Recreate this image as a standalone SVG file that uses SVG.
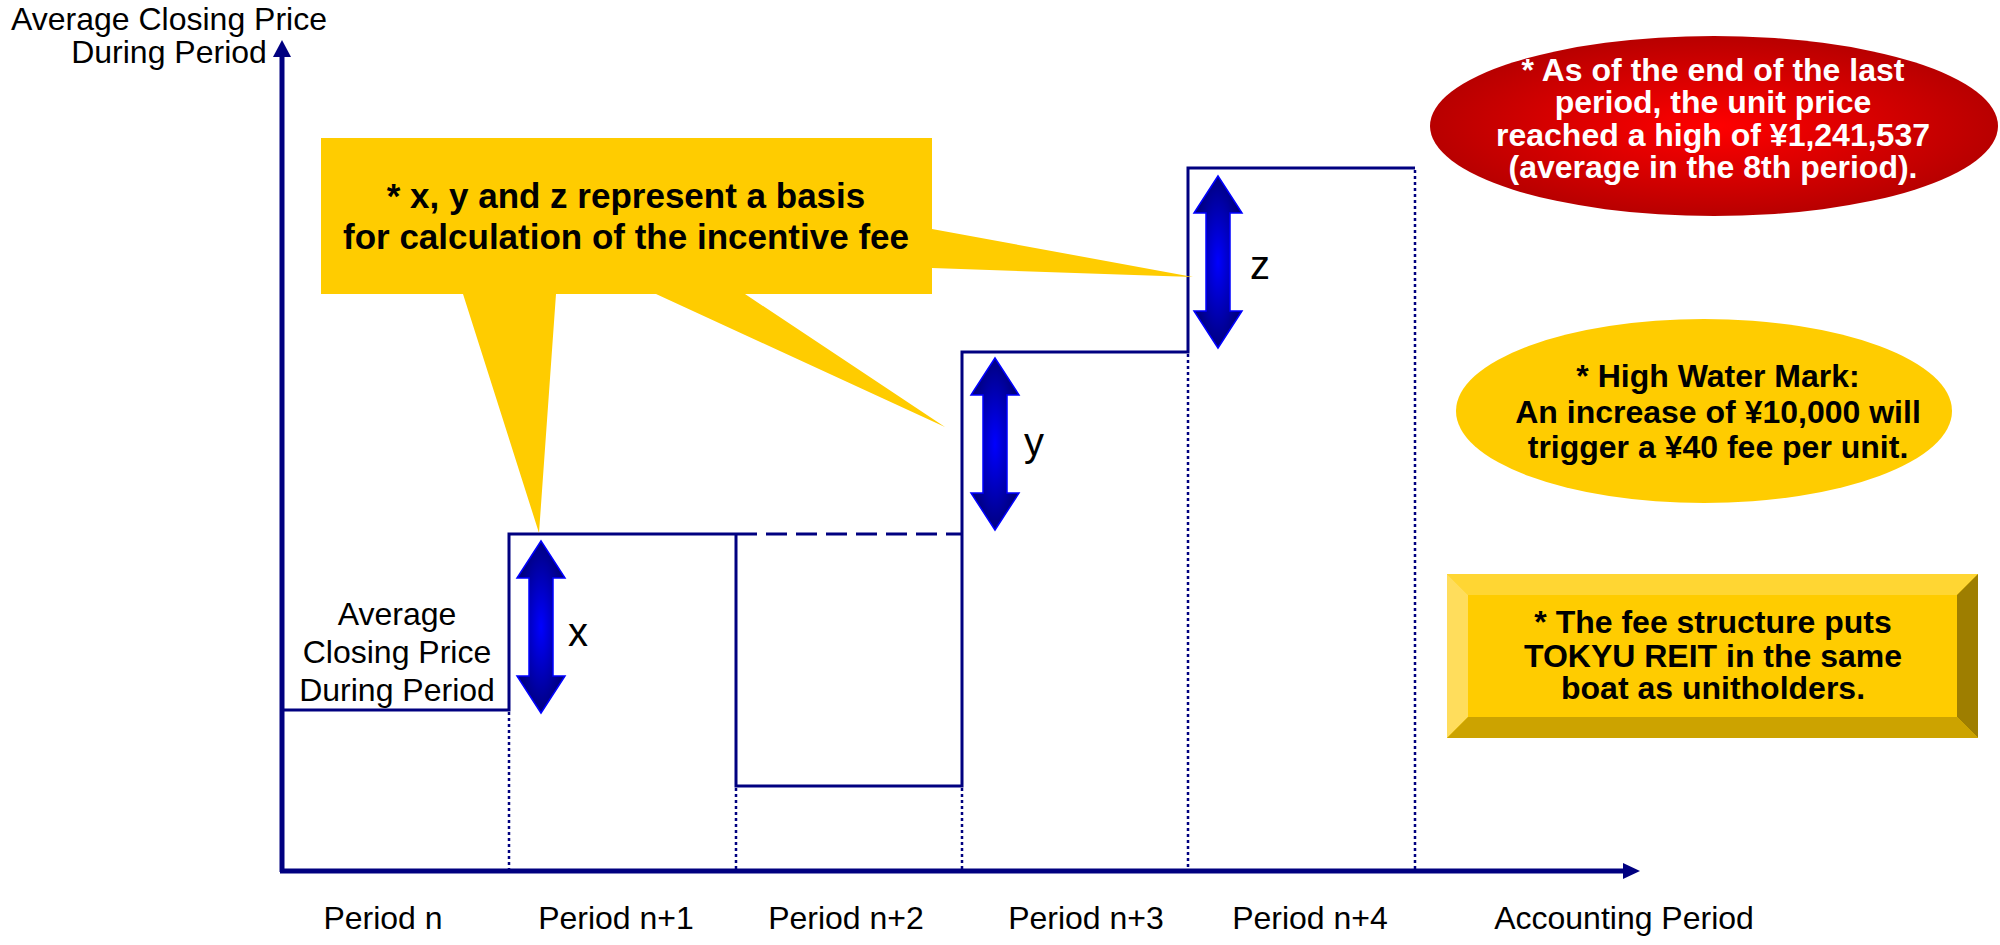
<svg xmlns="http://www.w3.org/2000/svg" width="2000" height="945" viewBox="0 0 2000 945">
<style>
text{font-family:"Liberation Sans",Arial,sans-serif;}
.lbl{font-size:32px;fill:#000;text-anchor:middle;}
.b{font-weight:bold;font-size:32px;text-anchor:middle;}
.step{fill:none;stroke:#000080;stroke-width:3;}
.dot{fill:none;stroke:#000080;stroke-width:2.5;stroke-dasharray:3 3;}
.dash{fill:none;stroke:#000080;stroke-width:3;stroke-dasharray:21 9;}
.axis{fill:none;stroke:#000080;stroke-width:5;}
.dbl{fill:url(#blueGrad);stroke:#0000FF;stroke-width:1.5;}
.var{font-size:40px;fill:#000;}
</style>
<defs>
<radialGradient id="blueGrad" cx="0.5" cy="0.5" r="0.5">
<stop offset="0" stop-color="#0000FF"/>
<stop offset="1" stop-color="#000080"/>
</radialGradient>
<radialGradient id="redGrad" cx="0.5" cy="0.5" r="0.5">
<stop offset="0" stop-color="#FF0000"/>
<stop offset="1" stop-color="#B80000"/>
</radialGradient>
<path id="dblArrow" d="M0,0 L24,37 L12,37 L12,135 L24,135 L0,172 L-24,135 L-12,135 L-12,37 L-24,37 Z"/>
</defs>

<g id="axes">
<line class="axis" x1="282" y1="872" x2="282" y2="55"/>
<polygon points="273,57 291,57 282,40" fill="#000080"/>
<line class="axis" x1="280" y1="871" x2="1625" y2="871"/>
<polygon points="1623,863 1623,879 1640,871" fill="#000080"/>
</g>

<g id="connectors">
<polyline class="step" points="282,710 509,710 509,534 736,534"/>
<polyline class="step" points="736,534 736,786 962,786 962,352 1188,352 1188,168 1415,168"/>
<line class="dash" x1="736" y1="534" x2="962" y2="534"/>
<line class="dot" x1="509" y1="712" x2="509" y2="870"/>
<line class="dot" x1="736" y1="788" x2="736" y2="870"/>
<line class="dot" x1="962" y1="788" x2="962" y2="870"/>
<line class="dot" x1="1188" y1="354" x2="1188" y2="870"/>
<line class="dot" x1="1415" y1="170" x2="1415" y2="870"/>
</g>

<g id="arrow-x">
<use href="#dblArrow" class="dbl" transform="translate(541,541)"/>
<text class="var" x="568" y="646">x</text>
</g>
<g id="arrow-y">
<use href="#dblArrow" class="dbl" transform="translate(995,358)"/>
<text class="var" x="1024" y="456">y</text>
</g>
<g id="arrow-z">
<use href="#dblArrow" class="dbl" transform="translate(1218,176)"/>
<text class="var" x="1250" y="279">z</text>
</g>

<g id="y-axis-label">
<text class="lbl" x="169" y="30">Average Closing Price</text>
<text class="lbl" x="169" y="63">During Period</text>
</g>

<g id="price-label">
<text class="lbl" x="397" y="625">Average</text>
<text class="lbl" x="397" y="663">Closing Price</text>
<text class="lbl" x="397" y="701">During Period</text>
</g>

<g id="period-labels">
<text class="lbl" x="383" y="929">Period n</text>
<text class="lbl" x="616" y="929">Period n+1</text>
<text class="lbl" x="846" y="929">Period n+2</text>
<text class="lbl" x="1086" y="929">Period n+3</text>
<text class="lbl" x="1310" y="929">Period n+4</text>
<text class="lbl" x="1624" y="929">Accounting Period</text>
</g>

<g id="callout">
<path d="M321,138 L932,138 L932,229 L1193,277 L932,268 L932,294 L745,294 L945,427 L656,294 L556,294 L539,533 L463,294 L321,294 Z" fill="#FFCC00"/>
<text class="b" x="626" y="208" style="font-size:35px">* x, y and z represent a basis</text>
<text class="b" x="626" y="249" style="font-size:35px">for calculation of the incentive fee</text>
</g>

<g id="red-note">
<ellipse cx="1714" cy="126" rx="284" ry="90" fill="url(#redGrad)"/>
<text class="b" x="1713" y="81" fill="#FFFFFF">* As of the end of the last</text>
<text class="b" x="1713" y="113" fill="#FFFFFF">period, the unit price</text>
<text class="b" x="1713" y="146" fill="#FFFFFF">reached a high of ¥1,241,537</text>
<text class="b" x="1713" y="178" fill="#FFFFFF">(average in the 8th period).</text>
</g>

<g id="hwm-note">
<ellipse cx="1704" cy="411" rx="248" ry="92" fill="#FFCC00"/>
<text class="b" x="1718" y="387" fill="#000">* High Water Mark:</text>
<text class="b" x="1718" y="423" fill="#000">An increase of ¥10,000 will</text>
<text class="b" x="1718" y="458" fill="#000">trigger a ¥40 fee per unit.</text>
</g>

<g id="fee-note">
<rect x="1447" y="574" width="531" height="164" fill="#FFCC00"/>
<polygon points="1447,574 1978,574 1957,595 1468,595" fill="#FFD633"/>
<polygon points="1447,574 1468,595 1468,717 1447,738" fill="#FFDD5C"/>
<polygon points="1978,574 1978,738 1957,717 1957,595" fill="#9E7E00"/>
<polygon points="1447,738 1468,717 1957,717 1978,738" fill="#CCA300"/>
<text class="b" x="1713" y="633" fill="#000">* The fee structure puts</text>
<text class="b" x="1713" y="667" fill="#000">TOKYU REIT in the same</text>
<text class="b" x="1713" y="699" fill="#000">boat as unitholders.</text>
</g>
</svg>
